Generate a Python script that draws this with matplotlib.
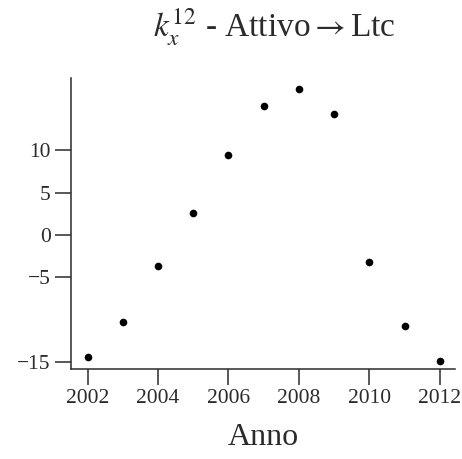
import matplotlib
matplotlib.use("Agg")
import matplotlib.pyplot as plt

# yearly values of k_x^12 (Attivo -> Ltc)
years = [2002, 2003, 2004, 2005, 2006, 2007, 2008, 2009, 2010, 2011, 2012]
values = [-14.35, -10.2, -3.6, 2.6, 9.4, 15.2, 17.2, 14.3, -3.15, -10.7, -14.8]

x_ticks = [2002, 2004, 2006, 2008, 2010, 2012]
y_ticks = [-15, -5, 0, 5, 10]

plt.rcParams["font.family"] = ["Liberation Serif", "DejaVu Serif"]
plt.rcParams["mathtext.fontset"] = "stix"

ink = "#2b2b2b"

fig = plt.figure(figsize=(4.62, 4.59), dpi=100)
ax = fig.add_axes([0.1537, 0.196, 0.8311, 0.634])

ax.plot(years, values, "o", color="black", markersize=5.5, markeredgewidth=0)

ax.set_xlim(2001.53, 2012.43)
ax.set_ylim(-15.8, 18.5)
ax.set_xticks(x_ticks)
ax.set_yticks(y_ticks)

for side in ("top", "right"):
    ax.spines[side].set_visible(False)
for side in ("left", "bottom"):
    ax.spines[side].set_color(ink)
    ax.spines[side].set_linewidth(1.1)

ax.tick_params(direction="out", length=11.5, width=1.1, color=ink,
               labelsize=15.5, labelcolor=ink, pad=3)

ax.set_xlabel("Anno", fontsize=23, color=ink, labelpad=11)

fig.text(0.593, 0.94, r"$k_x^{12}$ - Attivo$\rightarrow$Ltc", fontsize=24,
         ha="center", va="center", color=ink)

fig.savefig("out.png", dpi=100)
